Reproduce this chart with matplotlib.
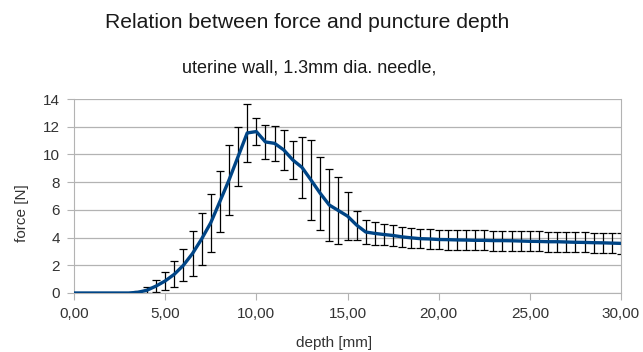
import matplotlib.pyplot as plt

plt.rcParams['font.family'] = ['Liberation Sans', 'DejaVu Sans']

depth = [i * 0.5 for i in range(61)]
force = [0, 0, 0, 0, 0, 0, 0, 0.05,
         0.2, 0.5, 0.87, 1.35, 2.0, 2.85, 3.9, 5.07, 6.6, 8.15, 9.85, 11.55,
         11.65, 10.9, 10.8, 10.33, 9.6, 9.07, 8.15, 7.2, 6.35, 5.95, 5.55,
         4.9, 4.4, 4.3, 4.22, 4.15, 4.05, 3.98, 3.92, 3.9, 3.86,
         3.85, 3.83, 3.82, 3.8, 3.8, 3.78, 3.78, 3.77, 3.75, 3.73,
         3.72, 3.7, 3.7, 3.68, 3.66, 3.65, 3.63, 3.62, 3.6, 3.58]
err = [0, 0, 0, 0, 0, 0, 0, 0.08,
       0.2, 0.45, 0.65, 0.95, 1.15, 1.6, 1.85, 2.1, 2.2, 2.5, 2.1, 2.1,
       0.95, 1.2, 1.25, 1.45, 1.4, 2.2, 2.9, 2.65, 2.6, 2.4, 1.75,
       1.05, 0.85, 0.8, 0.78, 0.75, 0.72, 0.7, 0.7, 0.7, 0.7,
       0.72, 0.72, 0.72, 0.72, 0.72, 0.72, 0.72, 0.72, 0.72, 0.72,
       0.72, 0.72, 0.72, 0.72, 0.72, 0.72, 0.72, 0.72, 0.74, 0.75]

xticks = [0, 5, 10, 15, 20, 25, 30]
yticks = [0, 2, 4, 6, 8, 10, 12, 14]

W, H = 643, 352
fig = plt.figure(figsize=(W / 100, H / 100), dpi=100)
ax = fig.add_axes([74 / W, 1 - 293 / H, (621 - 74) / W, (293 - 99) / H])

mask = [e > 0 for e in err]
ax.errorbar([d for d, m in zip(depth, mask) if m], [f for f, m in zip(force, mask) if m],
            yerr=[e for e, m in zip(err, mask) if m], fmt='none', ecolor='black',
            elinewidth=0.9, capsize=3, capthick=0.9, zorder=2)
ax.plot(depth, force, color='#004586', linewidth=2.4, zorder=3)

ax.set_xlim(0, 30)
ax.set_ylim(0, 14)
ax.set_xticks(xticks)
ax.set_xticklabels([f'{t:.2f}'.replace('.', ',') for t in xticks])
ax.set_yticks(yticks)
ax.grid(axis='y', color='#b3b3b3', linewidth=0.9)
ax.set_axisbelow(True)
for s in ['left', 'bottom', 'right']:
    ax.spines[s].set_color('#b3b3b3')
ax.spines['top'].set_visible(False)
ax.tick_params(colors='#b3b3b3', labelcolor='#333333', labelsize=11, length=5, pad=5)

fig.text(334 / W, 1 - 343 / H, 'depth [mm]', ha='center', va='center', fontsize=11, color='#333333')
fig.text(22 / W, 1 - 213 / H, 'force [N]', ha='center', va='center', fontsize=11,
         rotation=90, color='#333333')

fig.text(307 / W, 1 - 23 / H, 'Relation between force and puncture depth',
         ha='center', va='center', fontsize=15.2, color='#1a1a1a')
fig.text(309 / W, 1 - 68 / H, 'uterine wall, 1.3mm dia. needle,',
         ha='center', va='center', fontsize=13, color='#1a1a1a')

fig.savefig('out.png', dpi=100)
